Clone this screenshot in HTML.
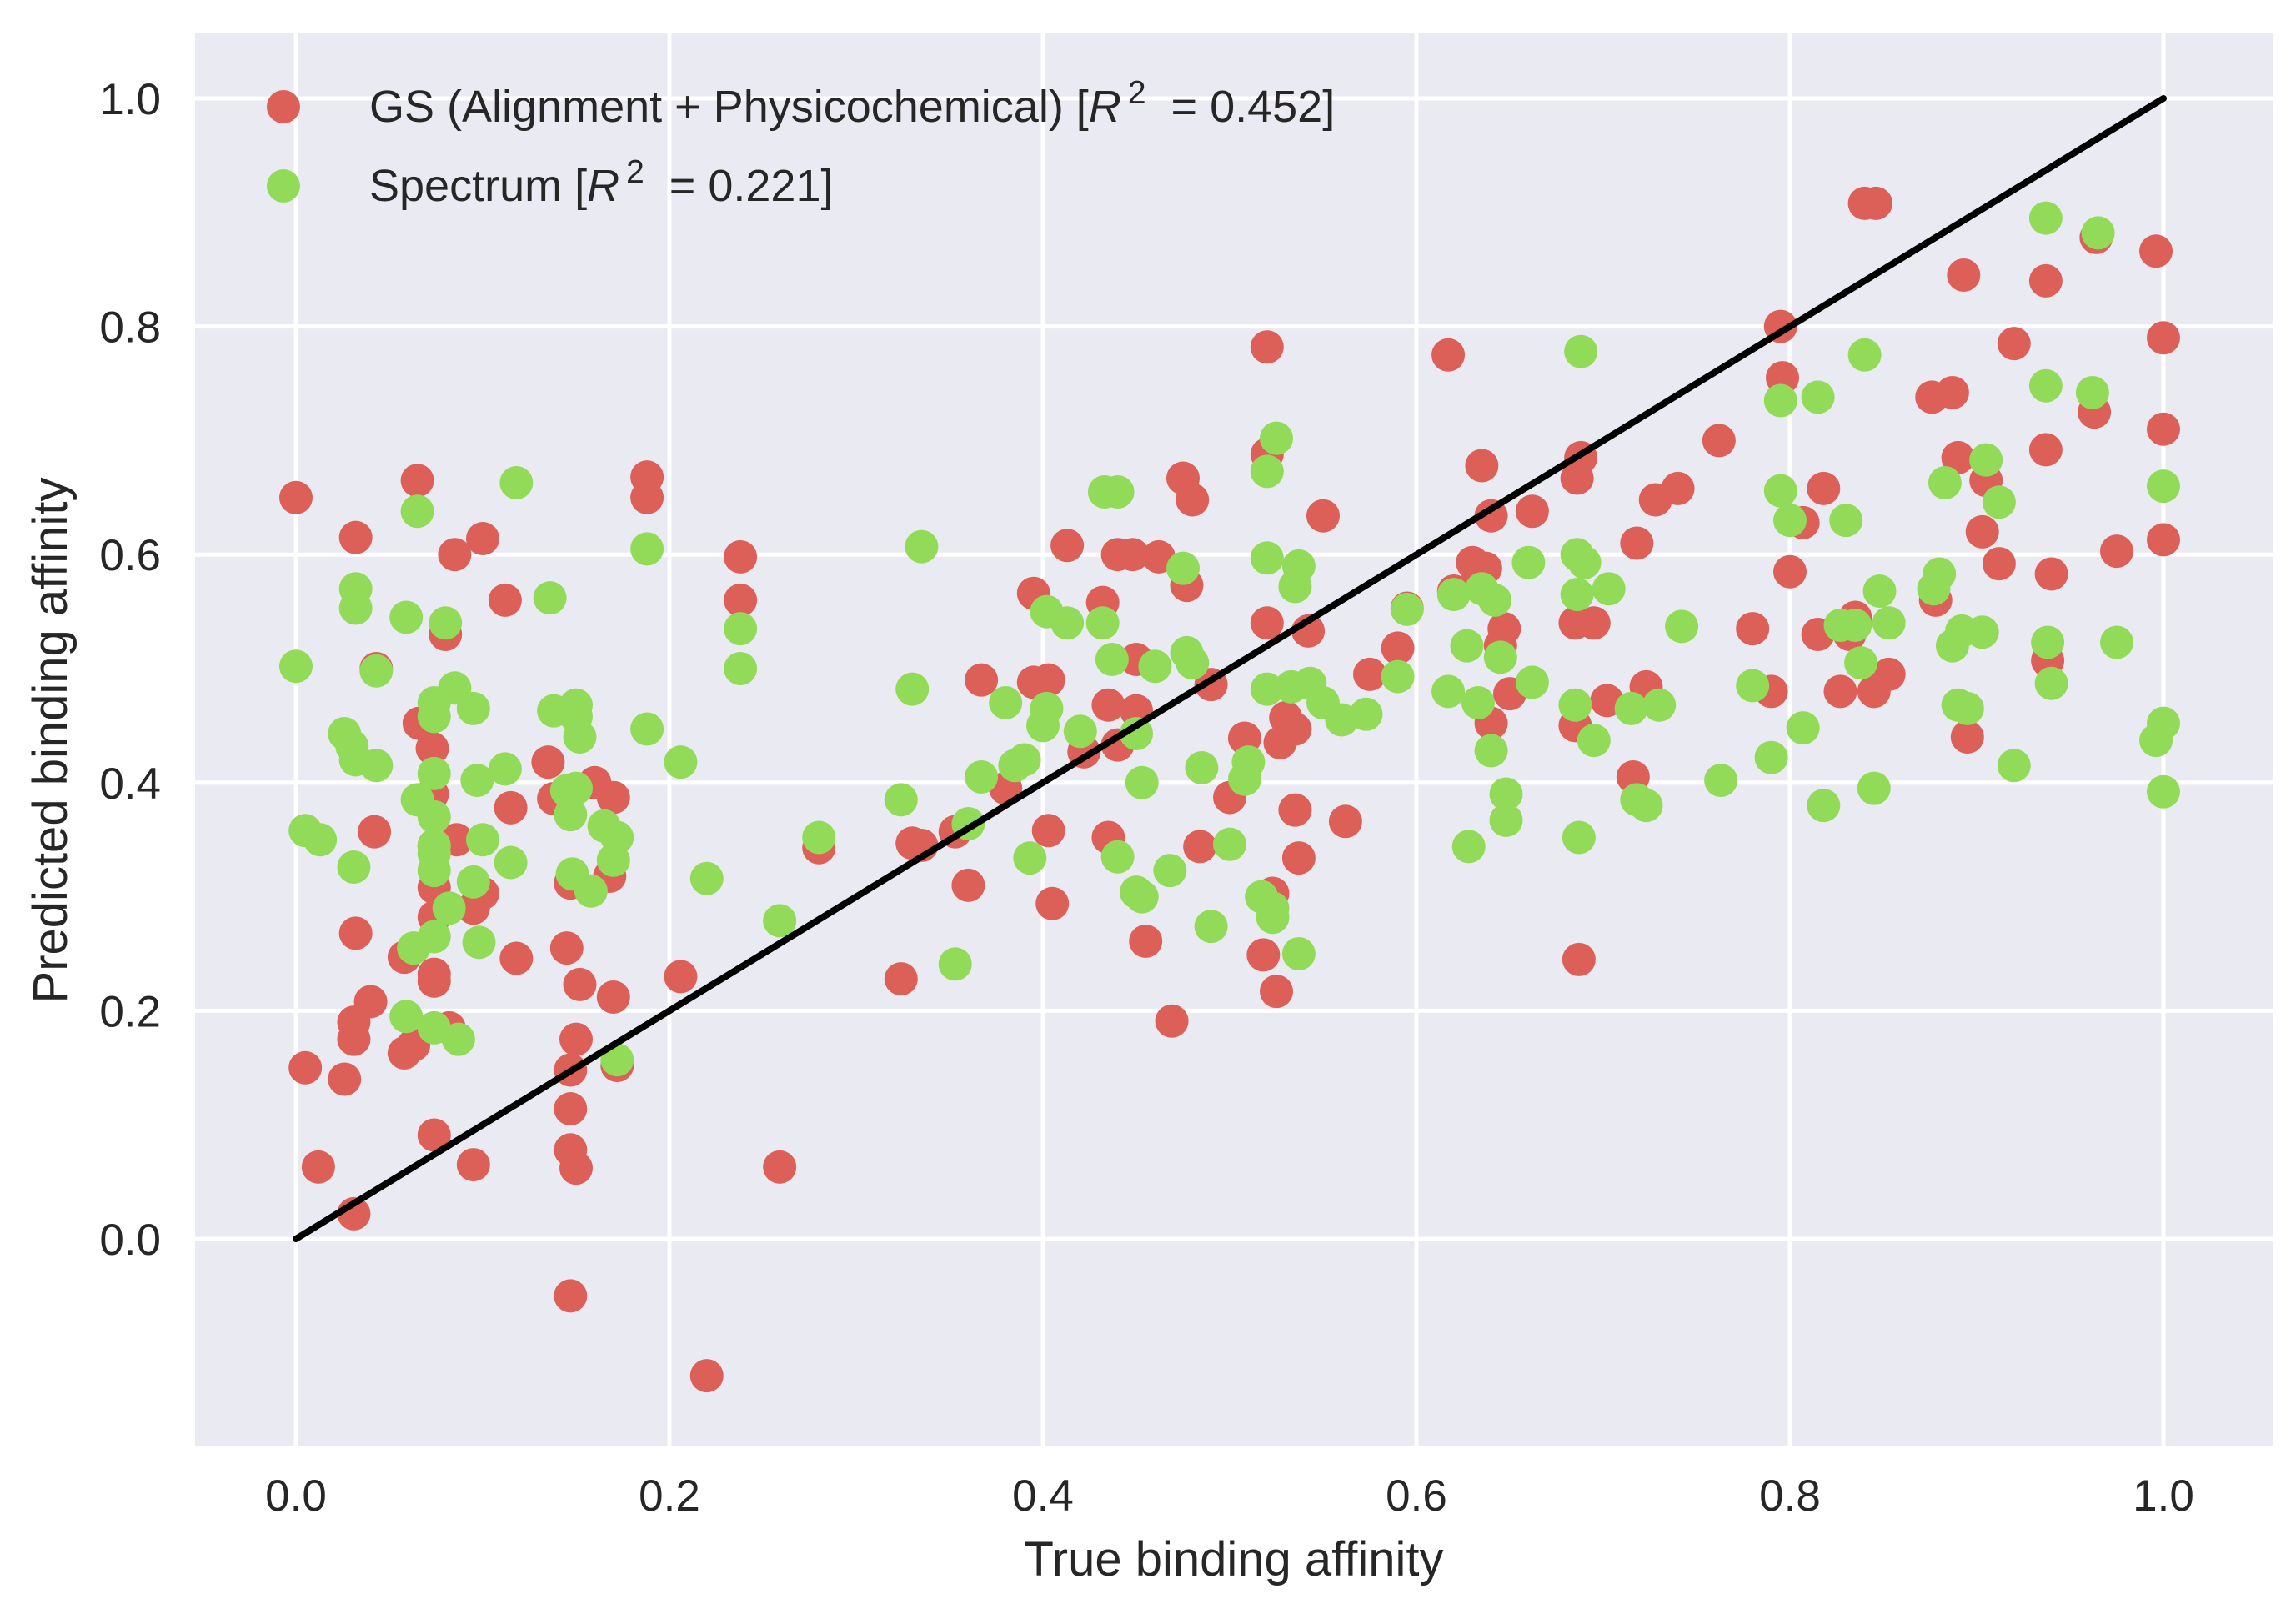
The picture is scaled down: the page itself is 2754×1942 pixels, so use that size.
<!DOCTYPE html>
<html><head><meta charset="utf-8"><style>
html,body{margin:0;padding:0;background:#fff;}
svg{display:block;font-family:"Liberation Sans",sans-serif;}
</style></head><body>
<svg id="chart" width="2754" height="1942" viewBox="0 0 2754 1942" xmlns="http://www.w3.org/2000/svg">
<rect x="234" y="40" width="2493" height="1694" fill="#eaeaf2"/>
<g id="grid"></g>
<g id="marks"></g>
<g id="ticks"></g>
<text x="1480" y="1890" font-size="58" fill="#262626" text-anchor="middle">True binding affinity</text>
<text transform="translate(80,888) rotate(-90)" font-size="58" fill="#262626" text-anchor="middle">Predicted binding affinity</text>
<g>
<circle cx="340" cy="128" r="20" fill="#dc6057"/>
<text x="443" y="146" font-size="54" fill="#262626">GS (Alignment + Physicochemical) [<tspan font-style="italic">R</tspan><tspan dx="8" dy="-22" font-size="39">2</tspan><tspan dy="22">&#160;&#160;=&#160;0.452]</tspan></text>
<circle cx="340" cy="223" r="20" fill="#92db58"/>
<text x="443" y="241" font-size="54" fill="#262626">Spectrum [<tspan font-style="italic">R</tspan><tspan dx="8" dy="-22" font-size="39">2</tspan><tspan dy="22">&#160;&#160;=&#160;0.221]</tspan></text>
</g>
</svg>
<script>
const xTicks = [0.0, 0.2, 0.4, 0.6, 0.8, 1.0];
const yTicks = [0.0, 0.2, 0.4, 0.6, 0.8, 1.0];
const gsX = [0.0,0.005,0.012,0.026,0.031,0.031,0.031,0.032,0.032,0.04,0.042,0.043,0.058,0.058,0.063,0.065,0.066,0.073,0.073,0.074,0.074,0.074,0.074,0.074,0.074,0.08,0.082,0.085,0.086,0.095,0.095,0.1,0.1,0.112,0.115,0.118,0.135,0.138,0.145,0.147,0.147,0.147,0.147,0.147,0.15,0.15,0.152,0.16,0.17,0.168,0.17,0.172,0.188,0.188,0.206,0.22,0.238,0.238,0.259,0.28,0.324,0.33,0.335,0.353,0.36,0.367,0.38,0.395,0.395,0.403,0.403,0.405,0.413,0.422,0.432,0.435,0.435,0.44,0.44,0.448,0.45,0.45,0.455,0.462,0.469,0.475,0.477,0.48,0.484,0.49,0.5,0.508,0.518,0.52,0.52,0.52,0.523,0.525,0.527,0.53,0.535,0.535,0.537,0.542,0.55,0.562,0.575,0.59,0.595,0.617,0.62,0.63,0.633,0.635,0.637,0.64,0.64,0.645,0.647,0.65,0.662,0.685,0.685,0.686,0.687,0.688,0.695,0.702,0.716,0.718,0.723,0.728,0.74,0.762,0.78,0.79,0.795,0.796,0.8,0.807,0.815,0.818,0.827,0.832,0.835,0.84,0.846,0.845,0.853,0.876,0.878,0.887,0.89,0.893,0.895,0.903,0.905,0.912,0.92,0.937,0.937,0.938,0.94,0.963,0.964,0.975,0.996,1.0,1.0,1.0];
const gsY = [0.65,0.15,0.063,0.14,0.022,0.19,0.175,0.268,0.615,0.208,0.357,0.5,0.247,0.163,0.17,0.665,0.452,0.43,0.39,0.345,0.308,0.282,0.232,0.226,0.091,0.53,0.185,0.6,0.35,0.065,0.29,0.303,0.614,0.56,0.378,0.246,0.418,0.386,0.255,0.312,0.148,0.114,0.078,-0.05,0.175,0.062,0.223,0.4,0.387,0.318,0.212,0.152,0.668,0.65,0.23,-0.12,0.598,0.56,0.063,0.343,0.228,0.347,0.345,0.357,0.31,0.49,0.395,0.566,0.488,0.49,0.358,0.294,0.608,0.427,0.558,0.468,0.352,0.433,0.6,0.6,0.463,0.508,0.261,0.598,0.191,0.667,0.573,0.648,0.344,0.486,0.387,0.439,0.249,0.54,0.688,0.782,0.303,0.217,0.435,0.457,0.447,0.376,0.334,0.533,0.634,0.366,0.495,0.518,0.553,0.775,0.568,0.593,0.58,0.678,0.588,0.634,0.452,0.52,0.535,0.478,0.638,0.54,0.45,0.667,0.245,0.685,0.54,0.472,0.405,0.61,0.484,0.648,0.658,0.7,0.535,0.48,0.8,0.755,0.585,0.628,0.53,0.658,0.48,0.53,0.545,0.908,0.908,0.48,0.495,0.738,0.56,0.742,0.685,0.845,0.44,0.62,0.665,0.592,0.785,0.84,0.692,0.507,0.583,0.725,0.878,0.603,0.866,0.79,0.71,0.613];
const spX = [0.0,0.005,0.013,0.026,0.03,0.031,0.032,0.032,0.032,0.043,0.043,0.059,0.059,0.063,0.065,0.065,0.074,0.074,0.074,0.074,0.074,0.074,0.074,0.074,0.074,0.08,0.082,0.085,0.087,0.095,0.095,0.097,0.098,0.1,0.112,0.115,0.118,0.136,0.138,0.145,0.147,0.148,0.15,0.15,0.15,0.152,0.158,0.165,0.17,0.172,0.172,0.188,0.188,0.206,0.22,0.238,0.238,0.259,0.28,0.324,0.33,0.335,0.353,0.36,0.367,0.38,0.385,0.39,0.393,0.4,0.402,0.402,0.413,0.42,0.432,0.433,0.437,0.44,0.44,0.45,0.45,0.453,0.453,0.46,0.468,0.475,0.477,0.48,0.485,0.49,0.5,0.508,0.51,0.517,0.52,0.52,0.52,0.523,0.523,0.525,0.533,0.535,0.537,0.537,0.543,0.55,0.56,0.573,0.59,0.595,0.617,0.62,0.627,0.628,0.633,0.635,0.64,0.642,0.645,0.648,0.648,0.66,0.662,0.685,0.686,0.686,0.687,0.688,0.69,0.695,0.703,0.715,0.718,0.723,0.73,0.742,0.763,0.78,0.79,0.795,0.795,0.8,0.807,0.815,0.818,0.827,0.83,0.835,0.838,0.84,0.845,0.848,0.853,0.877,0.88,0.883,0.887,0.89,0.892,0.895,0.903,0.905,0.912,0.92,0.937,0.937,0.938,0.94,0.962,0.965,0.975,0.996,1.0,1.0,1.0];
const spY = [0.502,0.358,0.35,0.443,0.432,0.326,0.42,0.57,0.553,0.498,0.415,0.545,0.195,0.255,0.638,0.385,0.47,0.458,0.408,0.37,0.345,0.338,0.323,0.265,0.185,0.54,0.29,0.483,0.175,0.465,0.313,0.402,0.26,0.35,0.412,0.33,0.663,0.562,0.463,0.393,0.372,0.32,0.468,0.458,0.395,0.44,0.305,0.362,0.332,0.352,0.157,0.605,0.447,0.418,0.316,0.535,0.5,0.279,0.352,0.385,0.482,0.607,0.241,0.364,0.405,0.47,0.415,0.42,0.334,0.45,0.465,0.55,0.54,0.445,0.54,0.655,0.508,0.655,0.335,0.443,0.304,0.3,0.4,0.502,0.323,0.588,0.514,0.505,0.413,0.274,0.346,0.403,0.418,0.3,0.597,0.482,0.673,0.282,0.29,0.702,0.484,0.572,0.59,0.25,0.487,0.47,0.455,0.46,0.493,0.552,0.48,0.565,0.52,0.344,0.47,0.57,0.428,0.56,0.51,0.39,0.367,0.593,0.488,0.468,0.6,0.565,0.352,0.778,0.593,0.437,0.57,0.465,0.385,0.38,0.468,0.537,0.402,0.485,0.422,0.735,0.656,0.63,0.448,0.738,0.38,0.538,0.63,0.538,0.505,0.775,0.395,0.568,0.54,0.57,0.583,0.663,0.52,0.468,0.533,0.465,0.532,0.683,0.646,0.415,0.895,0.748,0.523,0.487,0.742,0.882,0.523,0.437,0.452,0.66,0.392];
const diagX = [0.0, 1.0];
const diagY = [0.0, 1.0];

const NS = "http://www.w3.org/2000/svg";
const X0 = 355, X1 = 2595, Y0 = 1486, Y1 = 118;
function sx(v){ return X0 + (X1 - X0) * v; }
function sy(v){ return Y0 + (Y1 - Y0) * v; }
const grid = document.getElementById('grid');
const marks = document.getElementById('marks');
const ticks = document.getElementById('ticks');

xTicks.forEach(t => {
  const l = document.createElementNS(NS, 'line');
  
  
  l.setAttribute('x1', sx(t)); l.setAttribute('x2', sx(t));
  l.setAttribute('y1', 40); l.setAttribute('y2', 1734);
  l.setAttribute('stroke', '#fff'); l.setAttribute('stroke-width', 5);
  grid.appendChild(l);
  const tx = document.createElementNS(NS, 'text');
  
  
  tx.setAttribute('x', sx(t)); tx.setAttribute('y', 1812);
  tx.setAttribute('font-size', 53); tx.setAttribute('fill', '#262626');
  tx.setAttribute('text-anchor', 'middle');
  tx.textContent = t.toFixed(1);
  ticks.appendChild(tx);
});
yTicks.forEach(t => {
  const l = document.createElementNS(NS, 'line');
  
  
  l.setAttribute('x1', 234); l.setAttribute('x2', 2727);
  l.setAttribute('y1', sy(t)); l.setAttribute('y2', sy(t));
  l.setAttribute('stroke', '#fff'); l.setAttribute('stroke-width', 5);
  grid.appendChild(l);
  const tx = document.createElementNS(NS, 'text');
  
  
  tx.setAttribute('x', 193); tx.setAttribute('y', sy(t) + 19);
  tx.setAttribute('font-size', 53); tx.setAttribute('fill', '#262626');
  tx.setAttribute('text-anchor', 'end');
  tx.textContent = t.toFixed(1);
  ticks.appendChild(tx);
});

function drawSeries(xs, ys, color, name){
  xs.forEach((v, i) => {
    const c = document.createElementNS(NS, 'circle');
    
    
    c.setAttribute('cx', sx(v)); c.setAttribute('cy', sy(ys[i]));
    c.setAttribute('r', 20); c.setAttribute('fill', color);
    marks.appendChild(c);
  });
}
drawSeries(gsX, gsY, '#dc6057', 'gs-point');
drawSeries(spX, spY, '#92db58', 'spectrum-point');

const line = document.createElementNS(NS, 'line');


line.setAttribute('x1', sx(diagX[0])); line.setAttribute('y1', sy(diagY[0]));
line.setAttribute('x2', sx(diagX[1])); line.setAttribute('y2', sy(diagY[1]));
line.setAttribute('stroke', '#000'); line.setAttribute('stroke-width', 8);
line.setAttribute('stroke-linecap', 'round');
marks.appendChild(line);
</script>
</body></html>
